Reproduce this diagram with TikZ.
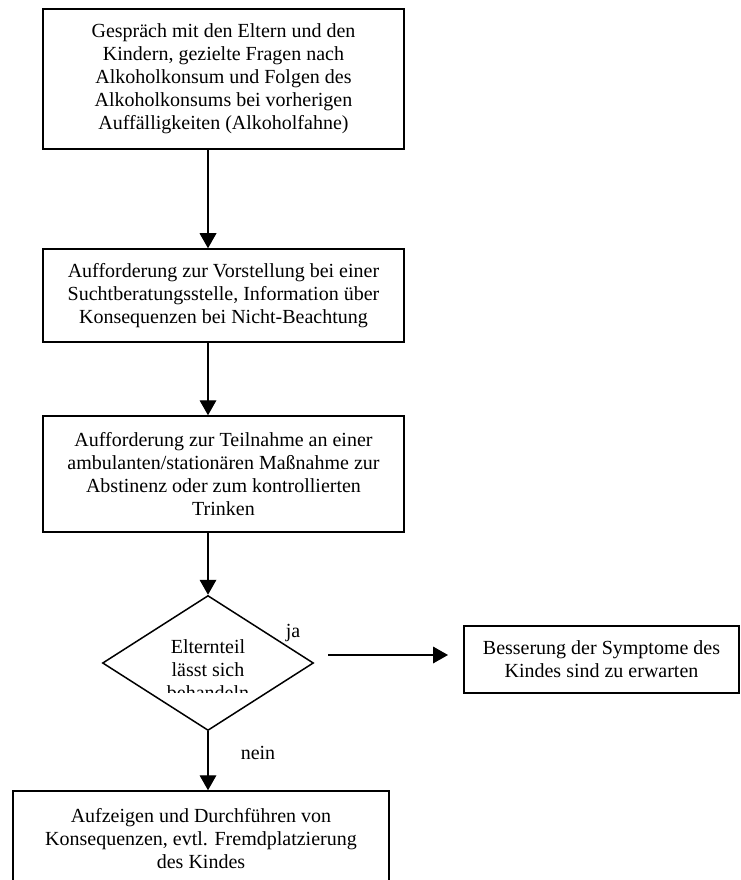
\documentclass[tikz,border=0pt]{standalone}
\usepackage{fontspec}
\setmainfont{Liberation Serif}
\usetikzlibrary{arrows.meta,shapes.geometric}

\begin{document}
\begin{tikzpicture}[x=0.6pt,y=-0.6pt,
    box/.style={draw,line width=0.9pt,align=center,inner sep=0pt,font=\fontsize{12}{13.8}\selectfont},
    arr/.style={line width=0.8pt,-{Triangle[width=10pt,length=9pt]}},
    lbl/.style={font=\fontsize{12}{13.8}\selectfont}]
  \useasboundingbox (0,0) rectangle (740,880);
  \clip (0,0) rectangle (740,880);
  \node[box,minimum width=216.6pt,minimum height=84pt] (talk) at (223.5,79) {Gespräch mit den Eltern und den\\Kindern, gezielte Fragen nach\\Alkoholkonsum und Folgen des\\Alkoholkonsums bei vorherigen\\Auffälligkeiten (Alkoholfahne)};
  \node[box,minimum width=216.6pt,minimum height=55.8pt] (invite) at (223.5,295.5) {Aufforderung zur Vorstellung bei einer\\Suchtberatungsstelle, Information über\\Konsequenzen bei Nicht-Beachtung};
  \node[box,minimum width=216.6pt,minimum height=69.6pt] (therapy) at (223.5,474) {Aufforderung zur Teilnahme an einer\\ambulanten/stationären Maßnahme zur\\Abstinenz oder zum kontrollierten\\Trinken};
  \node[draw,diamond,line width=0.9pt,inner sep=0pt,shape aspect=1.56,minimum width=126.6pt,minimum height=81pt] (dec) at (208,663) {};
  \begin{scope}
    \clip (100,595) rectangle (320,692);
    \node[lbl,align=center] (dectext) at (208,670) {Elternteil\\lässt sich\\behandeln};
  \end{scope}
  \node[box,minimum width=165pt,minimum height=40.2pt] (better) at (601.5,659.5) {Besserung der Symptome des\\Kindes sind zu erwarten};
  \node[box,minimum width=225.6pt,minimum height=57.6pt] (conseq) at (201,839) {Aufzeigen und Durchführen von\\Konsequenzen, evtl. Fremdplatzierung\\des Kindes};
  \coordinate (jastart) at (328,655);
  \coordinate (jaend) at (448,655);
  \draw[arr] (talk.south -| dec) -- (invite.north -| dec);
  \draw[arr] (invite.south -| dec) -- (therapy.north -| dec);
  \draw[arr] (therapy.south -| dec) -- (dec.north);
  \draw[arr] (dec.south) -- (conseq.north -| dec);
  \draw[arr] (jastart) -- (jaend);
  \node[lbl] (ja) at (293,633) {ja};
  \node[lbl] (nein) at (258,753) {nein};
\end{tikzpicture}
\end{document}
